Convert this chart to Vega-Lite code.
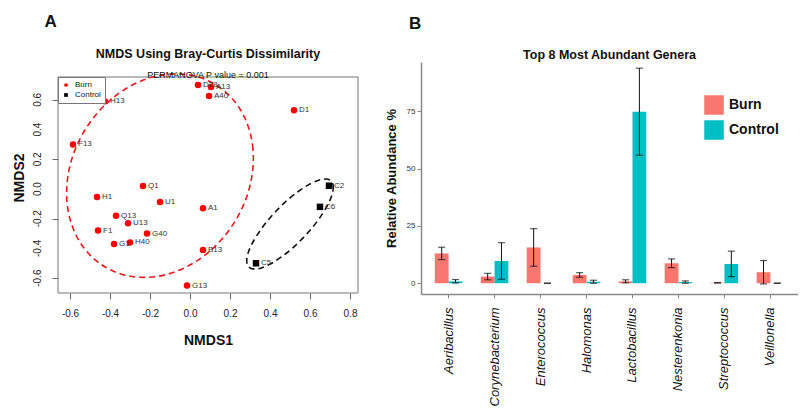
{
  "$schema": "https://vega.github.io/schema/vega-lite/v6.json",
  "padding": {"top": 12, "left": 12, "right": 0, "bottom": 0},
  "spacing": 26,
  "config": {
    "font": "Liberation Sans",
    "axis": {"grid": false},
    "title": {"color": "#111"}
  },
  "resolve": {
    "scale": {"color": "independent", "shape": "independent"},
    "legend": {"color": "independent", "shape": "independent"}
  },
  "datasets": {
    "samples": [
      {"name": "D28", "group": "Burn", "x": 0.04, "y": 0.70},
      {"name": "A13", "group": "Burn", "x": 0.105, "y": 0.687},
      {"name": "A40", "group": "Burn", "x": 0.095, "y": 0.626},
      {"name": "D1", "group": "Burn", "x": 0.52, "y": 0.53},
      {"name": "H13", "group": "Burn", "x": -0.425, "y": 0.59},
      {"name": "F13", "group": "Burn", "x": -0.585, "y": 0.30},
      {"name": "Q1", "group": "Burn", "x": -0.235, "y": 0.02},
      {"name": "H1", "group": "Burn", "x": -0.465, "y": -0.054},
      {"name": "U1", "group": "Burn", "x": -0.15, "y": -0.088},
      {"name": "A1", "group": "Burn", "x": 0.065, "y": -0.13},
      {"name": "Q13", "group": "Burn", "x": -0.37, "y": -0.18},
      {"name": "U13", "group": "Burn", "x": -0.31, "y": -0.23},
      {"name": "F1", "group": "Burn", "x": -0.46, "y": -0.28},
      {"name": "G40", "group": "Burn", "x": -0.215, "y": -0.30},
      {"name": "G1", "group": "Burn", "x": -0.38, "y": -0.37},
      {"name": "H40", "group": "Burn", "x": -0.30, "y": -0.36},
      {"name": "B13", "group": "Burn", "x": 0.065, "y": -0.41},
      {"name": "G13", "group": "Burn", "x": -0.015, "y": -0.65},
      {"name": "C2", "group": "Control", "x": 0.695, "y": 0.022},
      {"name": "C6", "group": "Control", "x": 0.65, "y": -0.12},
      {"name": "C5", "group": "Control", "x": 0.33, "y": -0.50}
    ],
    "yTicks": [
      {"v": -0.6, "lab": "-0.6"},
      {"v": -0.4, "lab": "-0.4"},
      {"v": -0.2, "lab": "-0.2"},
      {"v": 0, "lab": "0.0"},
      {"v": 0.2, "lab": "0.2"},
      {"v": 0.4, "lab": "0.4"},
      {"v": 0.6, "lab": "0.6"}
    ],
    "redEllipse": [
      {"t": 0, "x": 0.31, "y": 0.09},
      {"t": 1, "x": 0.315, "y": 0.267},
      {"t": 2, "x": 0.288, "y": 0.433},
      {"t": 3, "x": 0.232, "y": 0.574},
      {"t": 4, "x": 0.149, "y": 0.683},
      {"t": 5, "x": 0.046, "y": 0.752},
      {"t": 6, "x": -0.07, "y": 0.775},
      {"t": 7, "x": -0.192, "y": 0.752},
      {"t": 8, "x": -0.311, "y": 0.683},
      {"t": 9, "x": -0.419, "y": 0.574},
      {"t": 10, "x": -0.508, "y": 0.433},
      {"t": 11, "x": -0.574, "y": 0.267},
      {"t": 12, "x": -0.61, "y": 0.09},
      {"t": 13, "x": -0.615, "y": -0.087},
      {"t": 14, "x": -0.588, "y": -0.253},
      {"t": 15, "x": -0.532, "y": -0.394},
      {"t": 16, "x": -0.449, "y": -0.503},
      {"t": 17, "x": -0.346, "y": -0.572},
      {"t": 18, "x": -0.23, "y": -0.595},
      {"t": 19, "x": -0.108, "y": -0.572},
      {"t": 20, "x": 0.011, "y": -0.503},
      {"t": 21, "x": 0.119, "y": -0.394},
      {"t": 22, "x": 0.208, "y": -0.253},
      {"t": 23, "x": 0.274, "y": -0.087}
    ],
    "blackEllipse": [
      {"t": 0, "x": 0.705, "y": 0.054},
      {"t": 1, "x": 0.716, "y": 0.021},
      {"t": 2, "x": 0.712, "y": -0.029},
      {"t": 3, "x": 0.694, "y": -0.093},
      {"t": 4, "x": 0.662, "y": -0.167},
      {"t": 5, "x": 0.62, "y": -0.246},
      {"t": 6, "x": 0.569, "y": -0.324},
      {"t": 7, "x": 0.514, "y": -0.396},
      {"t": 8, "x": 0.457, "y": -0.457},
      {"t": 9, "x": 0.404, "y": -0.503},
      {"t": 10, "x": 0.357, "y": -0.531},
      {"t": 11, "x": 0.32, "y": -0.539},
      {"t": 12, "x": 0.295, "y": -0.526},
      {"t": 13, "x": 0.284, "y": -0.493},
      {"t": 14, "x": 0.288, "y": -0.443},
      {"t": 15, "x": 0.306, "y": -0.379},
      {"t": 16, "x": 0.338, "y": -0.305},
      {"t": 17, "x": 0.38, "y": -0.226},
      {"t": 18, "x": 0.431, "y": -0.148},
      {"t": 19, "x": 0.486, "y": -0.076},
      {"t": 20, "x": 0.543, "y": -0.015},
      {"t": 21, "x": 0.596, "y": 0.031},
      {"t": 22, "x": 0.643, "y": 0.059},
      {"t": 23, "x": 0.68, "y": 0.067}
    ],
    "genera": [
      {"genus": "Aeribacillus", "group": "Burn", "value": 13.0, "lo": 10.3, "hi": 15.7},
      {"genus": "Aeribacillus", "group": "Control", "value": 0.8, "lo": 0.1, "hi": 1.6},
      {"genus": "Corynebacterium", "group": "Burn", "value": 2.9, "lo": 1.5, "hi": 4.3},
      {"genus": "Corynebacterium", "group": "Control", "value": 9.7, "lo": 1.7, "hi": 17.7},
      {"genus": "Enterococcus", "group": "Burn", "value": 15.6, "lo": 7.4, "hi": 23.8},
      {"genus": "Enterococcus", "group": "Control", "value": 0, "lo": 0, "hi": 0},
      {"genus": "Halomonas", "group": "Burn", "value": 3.6, "lo": 2.6, "hi": 4.6},
      {"genus": "Halomonas", "group": "Control", "value": 0.6, "lo": 0, "hi": 1.3},
      {"genus": "Lactobacillus", "group": "Burn", "value": 0.8, "lo": 0.2, "hi": 1.5},
      {"genus": "Lactobacillus", "group": "Control", "value": 74.8, "lo": 55.8, "hi": 93.8},
      {"genus": "Nesterenkonia", "group": "Burn", "value": 8.7, "lo": 6.8, "hi": 10.6},
      {"genus": "Nesterenkonia", "group": "Control", "value": 0.5, "lo": 0, "hi": 1.0},
      {"genus": "Streptococcus", "group": "Burn", "value": 0.2, "lo": 0.1, "hi": 0.3},
      {"genus": "Streptococcus", "group": "Control", "value": 8.4, "lo": 2.9, "hi": 14.0},
      {"genus": "Veillonella", "group": "Burn", "value": 4.8, "lo": -0.3, "hi": 9.9},
      {"genus": "Veillonella", "group": "Control", "value": 0, "lo": 0, "hi": 0}
    ]
  },
  "hconcat": [
    {
      "title": {"text": "A", "anchor": "start", "fontSize": 17, "fontWeight": "bold", "dx": 32, "offset": 17},
      "vconcat": [
        {
          "width": 300,
          "height": 231,
          "title": {
            "text": "NMDS Using Bray-Curtis Dissimilarity",
            "subtitle": "PERMANOVA P value = 0.001",
            "fontSize": 12.5,
            "fontWeight": "bold",
            "subtitleFontSize": 9,
            "subtitleColor": "#111",
            "subtitlePadding": 11,
            "offset": -18,
            "anchor": "middle",
            "frame": "group"
          },
          "view": {"stroke": null},
          "layer": [
            {
              "data": {"values": [{}]},
              "mark": {"type": "rect", "filled": false, "stroke": "#777", "strokeWidth": 1},
              "encoding": {
                "x": {
                  "datum": -0.66, "type": "quantitative",
                  "scale": {"domain": [-0.66, 0.84], "nice": false, "zero": false},
                  "axis": {
                    "values": [-0.6, -0.4, -0.2, 0, 0.2, 0.4, 0.6, 0.8],
                    "labelExpr": "replace(format(datum.value, '.1f'), '\u2212', '-')",
                    "domain": false, "tickSize": 6, "tickColor": "#666",
                    "labelFontSize": 10, "labelColor": "#222", "labelPadding": 9, "labelFlush": false, "labelOverlap": false,
                    "title": "NMDS1", "titleFontSize": 14, "titleFontWeight": "bold", "titleColor": "#111", "titlePadding": 15
                  }
                },
                "x2": {"datum": 0.84},
                "y": {
                  "datum": -0.70, "type": "quantitative",
                  "scale": {"domain": [-0.70, 0.855], "nice": false, "zero": false},
                  "axis": {
                    "values": [-0.6, -0.4, -0.2, 0, 0.2, 0.4, 0.6],
                    "labels": false,
                    "domain": false, "tickSize": 6, "tickColor": "#666",
                    "title": "NMDS2", "titleFontSize": 14, "titleFontWeight": "bold", "titleColor": "#111", "titlePadding": 25
                  }
                },
                "y2": {"datum": 0.754}
              }
            },
            {
              "data": {"name": "yTicks"},
              "mark": {"type": "text", "angle": 270, "align": "center", "baseline": "bottom", "dy": -15, "fontSize": 10, "color": "#222"},
              "encoding": {
                "x": {"datum": -0.66, "type": "quantitative"},
                "y": {"field": "v", "type": "quantitative"},
                "text": {"field": "lab"}
              }
            },
            {
              "data": {"name": "redEllipse"},
              "mark": {"type": "line", "interpolate": "cardinal-closed", "strokeDash": [6, 4], "strokeWidth": 1.6, "color": "#e8191b"},
              "encoding": {
                "x": {"field": "x", "type": "quantitative"},
                "y": {"field": "y", "type": "quantitative"},
                "order": {"field": "t", "type": "quantitative"}
              }
            },
            {
              "data": {"name": "blackEllipse"},
              "mark": {"type": "line", "interpolate": "cardinal-closed", "strokeDash": [6, 4], "strokeWidth": 1.6, "color": "#111"},
              "encoding": {
                "x": {"field": "x", "type": "quantitative"},
                "y": {"field": "y", "type": "quantitative"},
                "order": {"field": "t", "type": "quantitative"}
              }
            },
            {
              "data": {"name": "samples"},
              "mark": {"type": "point", "filled": true, "opacity": 1},
              "encoding": {
                "x": {"field": "x", "type": "quantitative"},
                "y": {"field": "y", "type": "quantitative"},
                "color": {
                  "field": "group", "type": "nominal",
                  "scale": {"domain": ["Burn", "Control"], "range": ["#ff0000", "#000000"]},
                  "legend": {"orient": "none", "legendX": 0, "legendY": 15, "title": null, "fillColor": "white", "strokeColor": "#777", "padding": 4, "labelFontSize": 8, "labelColor": "#111", "symbolSize": 14, "rowPadding": 2, "labelOffset": 5}
                },
                "shape": {
                  "field": "group", "type": "nominal",
                  "scale": {"domain": ["Burn", "Control"], "range": ["circle", "square"]},
                  "legend": {"orient": "none", "legendX": 0, "legendY": 15, "title": null, "fillColor": "white", "strokeColor": "#777", "padding": 4, "labelFontSize": 8, "labelColor": "#111", "symbolSize": 14, "rowPadding": 2, "labelOffset": 5}
                },
                "size": {"value": 42}
              }
            },
            {
              "data": {"name": "samples"},
              "mark": {"type": "text", "align": "left", "baseline": "middle", "dx": 5, "fontSize": 8, "color": "#333"},
              "encoding": {
                "x": {"field": "x", "type": "quantitative"},
                "y": {"field": "y", "type": "quantitative"},
                "text": {"field": "name"}
              }
            }
          ]
        }
      ]
    },
    {
      "title": {"text": "B", "anchor": "start", "fontSize": 17, "fontWeight": "bold", "dx": 24, "offset": 16},
      "vconcat": [
        {
          "width": 377,
          "height": 232,
          "title": {"text": "Top 8 Most Abundant Genera", "fontSize": 12.5, "fontWeight": "bold", "offset": 1, "anchor": "middle", "frame": "group"},
          "view": {"stroke": null},
          "data": {"name": "genera"},
          "encoding": {
            "x": {
              "field": "genus", "type": "nominal", "sort": null,
              "scale": {"paddingInner": 0, "paddingOuter": 0.1},
              "axis": {
                "title": null, "domainColor": "#888", "domainWidth": 1.5, "tickColor": "#888", "tickSize": 4,
                "labelAngle": 270, "labelAlign": "right", "labelBaseline": "middle",
                "labelFontSize": 13, "labelFontStyle": "italic", "labelColor": "#111", "labelPadding": 9
              }
            },
            "xOffset": {
              "field": "group", "type": "nominal", "sort": ["Burn", "Control"],
              "scale": {"paddingInner": 0, "paddingOuter": 0.667}
            }
          },
          "layer": [
            {
              "mark": {"type": "bar"},
              "encoding": {
                "y": {
                  "field": "value", "type": "quantitative",
                  "scale": {"domain": [-4.7, 96.5], "nice": false, "zero": false},
                  "axis": {
                    "values": [0, 25, 50, 75], "domainColor": "#888", "domainWidth": 1.5, "tickColor": "#888", "tickSize": 4,
                    "labelFontSize": 8, "labelColor": "#333", "labelPadding": 2,
                    "title": "Relative Abundance %", "titleFontSize": 13, "titleFontWeight": "bold", "titleColor": "#111", "titlePadding": 8
                  }
                },
                "y2": {"datum": 0},
                "color": {
                  "field": "group", "type": "nominal",
                  "scale": {"domain": ["Burn", "Control"], "range": ["#F8766D", "#00BFC4"]},
                  "legend": {"orient": "none", "legendX": 283, "legendY": 33, "title": null, "symbolType": "square", "symbolSize": 380, "symbolStrokeWidth": 0, "labelFontSize": 14, "labelFontWeight": "bold", "labelColor": "#111", "rowPadding": 5, "labelOffset": 5}
                }
              }
            },
            {
              "mark": {"type": "rule", "color": "#111", "strokeWidth": 1},
              "encoding": {
                "y": {"field": "lo", "type": "quantitative"},
                "y2": {"field": "hi"}
              }
            },
            {
              "mark": {"type": "tick", "color": "#111", "thickness": 1.2, "size": 7, "orient": "horizontal"},
              "encoding": {"y": {"field": "lo", "type": "quantitative"}}
            },
            {
              "mark": {"type": "tick", "color": "#111", "thickness": 1.2, "size": 7, "orient": "horizontal"},
              "encoding": {"y": {"field": "hi", "type": "quantitative"}}
            }
          ]
        }
      ]
    }
  ]
}
